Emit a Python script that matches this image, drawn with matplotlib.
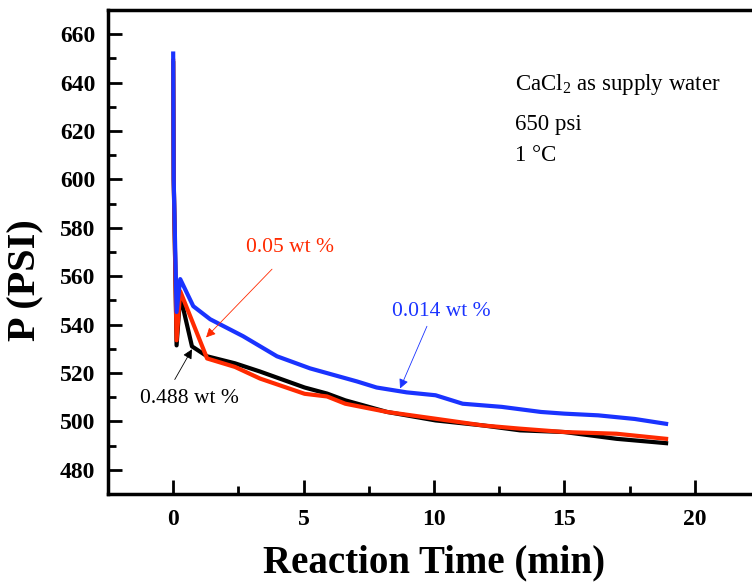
import matplotlib.pyplot as plt
from matplotlib.ticker import MultipleLocator

# data (time in min, pressure in psi)
t_blue = [0.0, 0.02, 0.13, 0.27, 0.77, 1.42, 2.68, 3.98, 5.25, 7.05, 7.8, 8.95, 10.06,
          11.1, 12.6, 14.1, 15.0, 16.3, 17.7, 18.9]
p_blue = [652, 600, 545.2, 558.8, 547.6, 542.2, 535.2, 526.9, 521.9, 516.5, 514, 512, 510.8,
          507.3, 506, 503.9, 503.2, 502.5, 501, 499]

t_red = [0.0, 0.02, 0.13, 0.27, 1.3, 2.37, 3.33, 5.04, 5.9, 6.6, 8.2, 10.06,
         11.9, 13.3, 15.0, 17.0, 18.9]
p_red = [649, 600, 533.5, 553.8, 526, 522.5, 517.7, 511.4, 510.3, 507.3, 503.9, 501.1,
         498.3, 497, 495.6, 494.9, 492.8]

t_black = [0.0, 0.02, 0.13, 0.27, 0.72, 1.3, 2.37, 3.33, 5.04, 5.9, 6.6, 8.2, 10.06,
           11.9, 13.3, 15.0, 17.0, 18.9]
p_black = [648, 600, 531.4, 552, 531, 526.9, 524, 520.6, 514, 511.5, 508.7, 503.9, 500.4,
           498.3, 496.3, 495.6, 492.8, 491]

header = ['CaCl$_2$ as supply water', '650 psi', '1 \u00b0C']
header_y = [639.0, 622.5, 610.0]

plt.rcParams['font.family'] = ['Liberation Serif', 'DejaVu Serif']
plt.rcParams['mathtext.fontset'] = 'custom'
plt.rcParams['mathtext.rm'] = 'Liberation Serif'

fig = plt.figure(figsize=(7.52, 5.86), dpi=100)
ax = fig.add_axes([0.1436, 0.157, 0.867, 0.826])

red = '#ff2a00'
blue = '#1a33ff'
ax.plot(t_black, p_black, color='black', lw=3)
ax.plot(t_red, p_red, color=red, lw=3)
ax.plot(t_blue, p_blue, color=blue, lw=3)

ax.set_xlim(-2.5, 22.5)
ax.set_ylim(470, 670)
ax.xaxis.set_major_locator(MultipleLocator(5))
ax.xaxis.set_minor_locator(MultipleLocator(2.5))
ax.yaxis.set_minor_locator(MultipleLocator(10))
ax.set_yticks(range(480, 661, 20))

ax.tick_params(which='both', direction='in', width=2, labelsize=17)
ax.tick_params(which='major', length=10)
ax.tick_params(which='minor', length=6)
ax.tick_params(axis='x', pad=11)
ax.tick_params(axis='y', pad=9)
for lab in ax.get_xticklabels() + ax.get_yticklabels():
    lab.set_fontweight('bold')
for side in ['left', 'bottom', 'top']:
    ax.spines[side].set_linewidth(2.5)
ax.spines['right'].set_visible(False)

ax.set_xlabel('Reaction Time (min)', fontsize=28, fontweight='bold', labelpad=10)
ax.set_ylabel('P (PSI)', fontsize=29, fontweight='bold')
ax.yaxis.set_label_coords(-0.097, 0.442)

for txt, y in zip(header, header_y):
    ax.text(13.1, y, txt, fontsize=16.5, va='center', ha='left')

# labels and arrows
ax.text(4.48, 571.7, '0.05 wt %', color=red, fontsize=15.5, ha='center', va='center')
ax.text(10.3, 545.5, '0.014 wt %', color=blue, fontsize=15.5, ha='center', va='center')
ax.text(0.61, 509.4, '0.488 wt %', color='black', fontsize=15.5, ha='center', va='center')

arrow_kw = dict(arrowstyle='-|>', lw=0.6, shrinkA=0, shrinkB=0, mutation_scale=14)
ax.annotate('', xy=(1.26, 534.7), xytext=(3.79, 562.9),
            arrowprops=dict(color=red, **arrow_kw))
ax.annotate('', xy=(8.7, 513.6), xytext=(9.73, 539.3),
            arrowprops=dict(color=blue, **arrow_kw))
ax.annotate('', xy=(0.72, 529.8), xytext=(0.06, 517.3),
            arrowprops=dict(color='black', **arrow_kw))

fig.savefig('out.png', dpi=100)
